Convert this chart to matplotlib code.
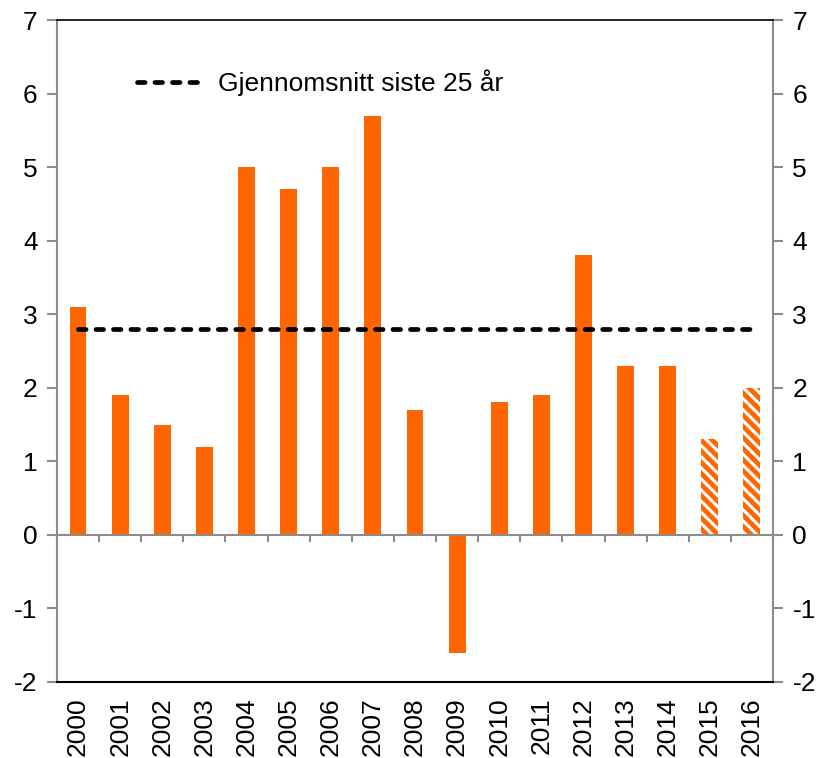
import matplotlib
matplotlib.use("Agg")
import matplotlib.pyplot as plt
import numpy as np

plt.rcParams['font.family'] = ['Liberation Sans', 'DejaVu Sans']
plt.rcParams['hatch.color'] = 'white'
plt.rcParams['hatch.linewidth'] = 2.2

years = ["2000", "2001", "2002", "2003", "2004", "2005", "2006", "2007", "2008",
         "2009", "2010", "2011", "2012", "2013", "2014", "2015", "2016"]
values = [3.1, 1.9, 1.5, 1.2, 5.0, 4.7, 5.0, 5.7, 1.7, -1.6, 1.8, 1.9, 3.8, 2.3, 2.3, 1.3, 2.0]
forecast = [False] * 15 + [True, True]
average = 2.8
avg_label = "Gjennomsnitt siste 25 år"
yticks = [-2, -1, 0, 1, 2, 3, 4, 5, 6, 7]

orange = '#FF6600'
gray = '#8C8C8C'
fs = 19

fig = plt.figure(figsize=(8.21, 7.58), dpi=100)
ax = fig.add_axes([0.0694, 0.1003, 0.8721, 0.8733])

x = np.arange(len(years))
for xi, v, f in zip(x, values, forecast):
    if f:
        ax.bar(xi, v, width=0.4, color=orange, hatch='\\\\\\', edgecolor='white', linewidth=0)
    else:
        ax.bar(xi, v, width=0.4, color=orange, linewidth=0)

ax.plot(x, [average] * len(x), color='black', lw=3.4,
        dashes=(1.6, 2.1), dash_capstyle='round', label=avg_label, zorder=5)

ax.set_xlim(-0.5, len(years) - 0.5)
ax.set_ylim(-2, 7)
ax.set_yticks(yticks)
ax.set_yticklabels([str(t) for t in yticks], fontsize=fs)
ax.set_xticks(x)
ax.set_xticklabels(years, rotation=90, fontsize=fs)
ax.tick_params(axis='x', length=0, pad=11)
ax.tick_params(axis='y', direction='out', length=7, width=1.5, color=gray, pad=7,
               right=True, labelright=True)

ax.axhline(0, color=gray, lw=1.5, zorder=3)
for b in np.arange(len(years) + 1) - 0.5:
    ax.plot([b, b], [0, -0.09], color=gray, lw=1.5, zorder=3, clip_on=False)

for s in ['left', 'right']:
    ax.spines[s].set_color(gray)
    ax.spines[s].set_linewidth(1.5)
ax.spines['top'].set_color('black')
ax.spines['top'].set_linewidth(1.2)
ax.spines['bottom'].set_color('black')
ax.spines['bottom'].set_linewidth(1.5)

leg = ax.legend(loc='center left', bbox_to_anchor=(0.112, 0.905), frameon=False,
                fontsize=fs, handlelength=2.5, handletextpad=0.55,
                borderpad=0, borderaxespad=0)

fig.savefig('out.png', dpi=100)
